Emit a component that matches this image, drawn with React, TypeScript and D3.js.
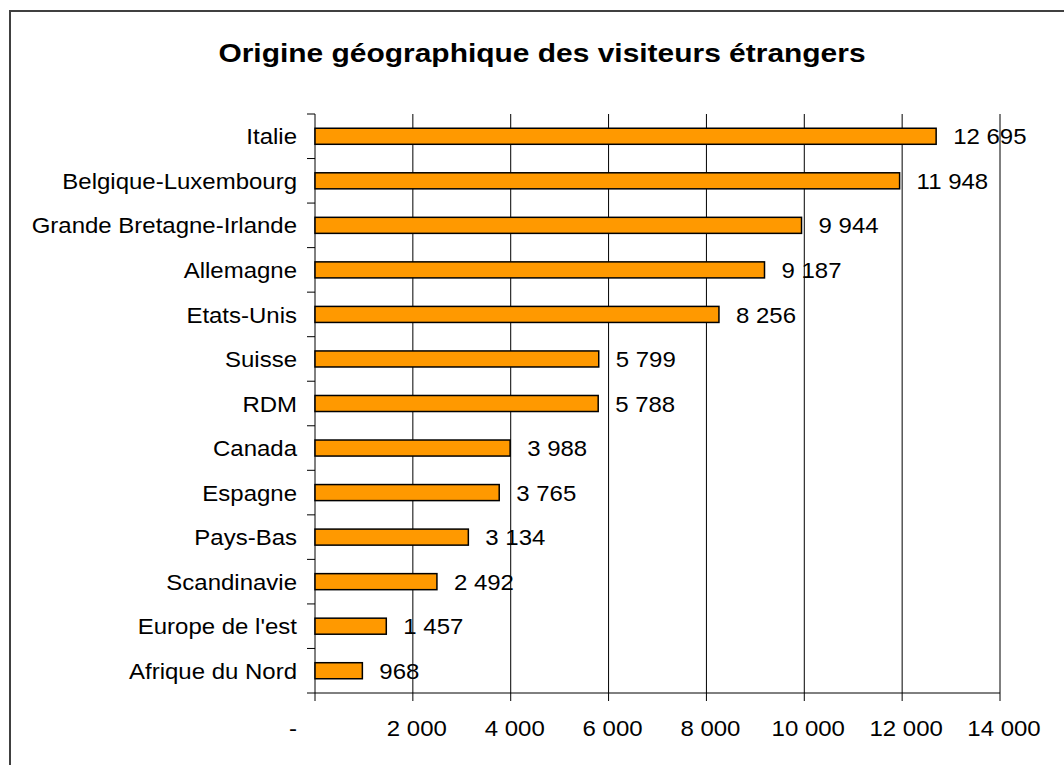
import React, { useRef, useEffect } from 'react'
import * as d3 from 'd3'

const title = "Origine géographique des visiteurs étrangers"
const countries = [
  "Italie", "Belgique-Luxembourg", "Grande Bretagne-Irlande", "Allemagne", "Etats-Unis",
  "Suisse", "RDM", "Canada", "Espagne", "Pays-Bas", "Scandinavie", "Europe de l'est", "Afrique du Nord",
]
const visitors = [12695, 11948, 9944, 9187, 8256, 5799, 5788, 3988, 3765, 3134, 2492, 1457, 968]
const xTicks = [0, 2000, 4000, 6000, 8000, 10000, 12000, 14000]

const fmt = (v: number) => (v === 0 ? "-" : d3.format(",")(v).replace(/,/g, " "))

export default function App() {
  const ref = useRef<SVGSVGElement>(null)

  useEffect(() => {
    const svg = d3.select(ref.current)
    svg.selectAll("*").remove()

    const left = 315, right = 1000, top = 114, bottom = 693
    const font = "'Liberation Sans', Arial, sans-serif"
    const sx = 1.066 // original text is a bit wider than Arial

    // frame
    svg.append("rect")
      .attr("x", 10).attr("y", 11).attr("width", 1200).attr("height", 900)
      .attr("fill", "white").attr("stroke", "#404040").attr("stroke-width", 2)

    svg.append("text")
      .attr("transform", "translate(542,62) scale(1.13,1)")
      .attr("text-anchor", "middle")
      .style("font-family", font).style("font-size", "26.5px").style("font-weight", "bold")
      .text(title)

    const x = d3.scaleLinear().domain([0, 14000]).range([left, right])
    const y = d3.scaleBand().domain(countries).range([top, bottom])
      .paddingInner(0.64).paddingOuter(0.32)
    const step = y.step()

    // vertical gridlines
    svg.append("g").selectAll("line")
      .data(xTicks.slice(1))
      .enter().append("line")
      .attr("x1", d => x(d)).attr("x2", d => x(d))
      .attr("y1", top).attr("y2", bottom)
      .attr("stroke", "#000").attr("stroke-width", 1)

    // y axis line + ticks
    svg.append("line")
      .attr("x1", left).attr("x2", left).attr("y1", top).attr("y2", bottom)
      .attr("stroke", "#000").attr("stroke-width", 1)
    svg.append("g").selectAll("line")
      .data(d3.range(countries.length + 1))
      .enter().append("line")
      .attr("x1", left - 8).attr("x2", left)
      .attr("y1", i => top + i * step).attr("y2", i => top + i * step)
      .attr("stroke", "#000").attr("stroke-width", 1)

    // x axis line + ticks
    svg.append("line")
      .attr("x1", left).attr("x2", right).attr("y1", bottom).attr("y2", bottom)
      .attr("stroke", "#000").attr("stroke-width", 1)
    svg.append("g").selectAll("line")
      .data(xTicks)
      .enter().append("line")
      .attr("x1", d => x(d)).attr("x2", d => x(d))
      .attr("y1", bottom).attr("y2", bottom + 8)
      .attr("stroke", "#000").attr("stroke-width", 1)

    svg.append("g").selectAll("text")
      .data(xTicks)
      .enter().append("text")
      .attr("transform", d => `translate(${d === 0 ? 293 : x(d) + 4},736) scale(${sx},1)`)
      .attr("text-anchor", "middle")
      .style("font-family", font).style("font-size", "22.5px")
      .text(d => fmt(d))

    // category labels
    svg.append("g").selectAll("text")
      .data(countries)
      .enter().append("text")
      .attr("transform", d => `translate(${left - 18},${(y(d) as number) + y.bandwidth() / 2}) scale(${sx},1)`)
      .attr("dy", "0.36em")
      .attr("text-anchor", "end")
      .style("font-family", font).style("font-size", "22.5px")
      .text(d => d)

    // bars
    svg.append("g").selectAll("rect")
      .data(visitors)
      .enter().append("rect")
      .attr("x", x(0))
      .attr("y", (d, i) => y(countries[i]) as number)
      .attr("width", d => x(d) - x(0))
      .attr("height", y.bandwidth())
      .attr("fill", "#FF9900")
      .attr("stroke", "#000").attr("stroke-width", 1.5)

    // value labels
    svg.append("g").selectAll("text")
      .data(visitors)
      .enter().append("text")
      .attr("transform", (d, i) => `translate(${x(d) + 17},${(y(countries[i]) as number) + y.bandwidth() / 2}) scale(${sx},1)`)
      .attr("dy", "0.36em")
      .style("font-family", font).style("font-size", "22.5px")
      .text(d => fmt(d))
  }, [])

  return (
    <svg
      ref={ref}
      width={1064}
      height={765}
      style={{ position: "absolute", left: 0, top: 0, display: "block" }}
    />
  )
}
